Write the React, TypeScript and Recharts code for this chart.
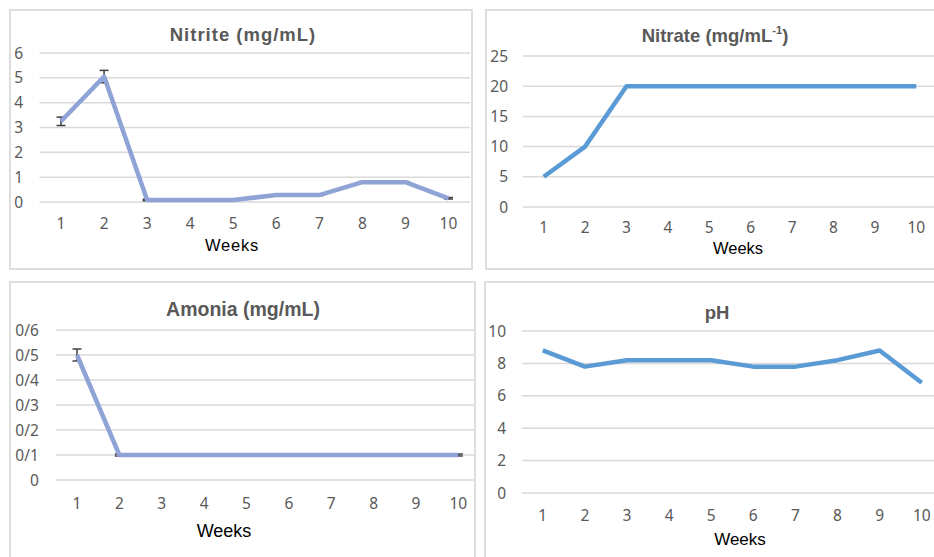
import React from 'react';
import { LineChart, Line, XAxis, YAxis, CartesianGrid, ErrorBar } from 'recharts';

// weeks on the x axis, shared by all four panels
const weeks = [1, 2, 3, 4, 5, 6, 7, 8, 9, 10];

const nitrite = [3.25, 5.05, 0.08, 0.08, 0.08, 0.28, 0.28, 0.8, 0.8, 0.15];
const nitriteErr = [0.17, 0.25, 0.03, 0.02, 0.02, 0.02, 0.02, 0.02, 0.02, 0.03];
const nitriteTicks = [0, 1, 2, 3, 4, 5, 6];

const nitrate = [5, 10, 20, 20, 20, 20, 20, 20, 20, 20];
const nitrateTicks = [0, 5, 10, 15, 20, 25];

const amonia = [0.5, 0.1, 0.1, 0.1, 0.1, 0.1, 0.1, 0.1, 0.1, 0.1];
const amoniaErr = [0.024, 0.004, 0.004, 0.004, 0.004, 0.004, 0.004, 0.004, 0.004, 0.004];
const amoniaTicks = [0, 0.1, 0.2, 0.3, 0.4, 0.5, 0.6];

const ph = [8.8, 7.8, 8.2, 8.2, 8.2, 7.8, 7.8, 8.2, 8.8, 6.8];
const phTicks = [0, 2, 4, 6, 8, 10];

const SVG_W = 950;
const SVG_H = 557;
const BW = 2;
const Y_W = 40;
const X_H = 30;

interface Box { left: number; top: number; width: number; height: number }
interface Plot { left: number; right: number; top: number; bottom: number }

interface PanelProps {
  box: Box;
  plot: Plot;
  values: number[];
  errors?: number[];
  color: string;
  ticks: number[];
  yTickMargin: number;
  xTickMargin: number;
  fmt?: (v: number) => string;
}

const tickStyle = { fill: '#595959', fontSize: 15.5, fontFamily: '"Noto Sans", sans-serif' };

const Panel: React.FC<PanelProps> = ({ box, plot, values, errors, color, ticks, yTickMargin, xTickMargin, fmt }) => {
  const data = weeks.map((w, i) => ({ week: w, value: values[i], err: errors ? errors[i] : 0 }));
  const pad = (plot.right - plot.left) / weeks.length / 2;

  return (
    <div
      style={{
        position: 'absolute',
        left: box.left,
        top: box.top,
        width: box.width,
        height: box.height,
        border: `${BW}px solid #dedede`,
        boxSizing: 'border-box',
        overflow: 'hidden',
      }}
    >
      <div style={{ position: 'absolute', left: -(box.left + BW), top: -(box.top + BW) }}>
        <LineChart
          width={SVG_W}
          height={SVG_H}
          data={data}
          margin={{
            left: plot.left - Y_W,
            right: SVG_W - plot.right,
            top: plot.top,
            bottom: SVG_H - plot.bottom - X_H,
          }}
        >
          <CartesianGrid vertical={false} stroke="#d9d9d9" strokeWidth={1.5} />
          <XAxis
            dataKey="week"
            type="category"
            height={X_H}
            axisLine={false}
            tickLine={false}
            tickSize={0}
            tickMargin={xTickMargin}
            interval={0}
            padding={{ left: pad, right: pad }}
            tick={tickStyle}
          />
          <YAxis
            type="number"
            width={Y_W}
            domain={[ticks[0], ticks[ticks.length - 1]]}
            ticks={ticks}
            interval={0}
            axisLine={false}
            tickLine={false}
            tickSize={0}
            tickMargin={yTickMargin}
            tick={tickStyle}
            tickFormatter={fmt}
          />
          <Line
            dataKey="value"
            type="linear"
            stroke={color}
            strokeWidth={4.5}
            strokeLinejoin="round"
            dot={false}
            activeDot={false}
            isAnimationActive={false}
          >
            {errors && (
              <ErrorBar dataKey="err" direction="y" width={4.5} stroke="#404040" strokeWidth={1.5} isAnimationActive={false} />
            )}
          </Line>
        </LineChart>
      </div>
    </div>
  );
};

const Caption: React.FC<{ cx: number; cy: number; size: number; bold?: boolean; spacing?: number; color?: string; children: React.ReactNode }> = ({
  cx, cy, size, bold, spacing = 0, color = '#595959', children,
}) => (
  <div
    style={{
      position: 'absolute',
      left: cx,
      top: cy - size / 2,
      height: size,
      lineHeight: `${size}px`,
      transform: 'translateX(-50%)',
      whiteSpace: 'nowrap',
      fontFamily: '"Liberation Sans", Arial, sans-serif',
      fontSize: size,
      fontWeight: bold ? 'bold' : 'normal',
      letterSpacing: spacing,
      color,
    }}
  >
    {children}
  </div>
);

const amoniaFmt = (v: number) => (v === 0 ? '0' : `0/${Math.round(v * 10)}`);

export default function App() {
  return (
    <div style={{ position: 'absolute', left: 0, top: 0, width: 934, height: 557, overflow: 'hidden', background: '#fff' }}>
      <Panel
        box={{ left: 9, top: 9, width: 464, height: 261 }}
        plot={{ left: 39.5, right: 470, top: 53, bottom: 202 }}
        values={nitrite}
        errors={nitriteErr}
        color="#8fa3d6"
        ticks={nitriteTicks}
        yTickMargin={16.5}
        xTickMargin={15.5}
      />
      <Panel
        box={{ left: 485, top: 9, width: 460, height: 261 }}
        plot={{ left: 523, right: 937, top: 56, bottom: 207 }}
        values={nitrate}
        color="#5b9bd5"
        ticks={nitrateTicks}
        yTickMargin={15}
        xTickMargin={15}
      />
      <Panel
        box={{ left: 9, top: 281, width: 467, height: 290 }}
        plot={{ left: 55.8, right: 479.5, top: 330, bottom: 480 }}
        values={amonia}
        errors={amoniaErr}
        color="#8fa3d6"
        ticks={amoniaTicks}
        yTickMargin={17}
        xTickMargin={17.5}
        fmt={amoniaFmt}
      />
      <Panel
        box={{ left: 484, top: 281, width: 460, height: 290 }}
        plot={{ left: 521.7, right: 942.8, top: 331, bottom: 493 }}
        values={ph}
        color="#5b9bd5"
        ticks={phTicks}
        yTickMargin={15.7}
        xTickMargin={16.5}
      />

      <Caption cx={243} cy={35} size={18.5} bold spacing={1}>Nitrite (mg/mL)</Caption>
      <Caption cx={232} cy={245} size={16.5} spacing={0.8} color="#000">Weeks</Caption>

      <Caption cx={715} cy={36} size={18.5} bold>
        Nitrate (mg/mL<sup style={{ fontSize: '0.6em', lineHeight: 0, verticalAlign: '0.7em' }}>-1</sup>)
      </Caption>
      <Caption cx={738} cy={248} size={16.5} color="#000">Weeks</Caption>

      <Caption cx={243} cy={310} size={19.5} bold>Amonia (mg/mL)</Caption>
      <Caption cx={224} cy={531} size={18} color="#000">Weeks</Caption>

      <Caption cx={717} cy={313} size={18.5} bold>pH</Caption>
      <Caption cx={740} cy={539} size={17} color="#000">Weeks</Caption>
    </div>
  );
}
